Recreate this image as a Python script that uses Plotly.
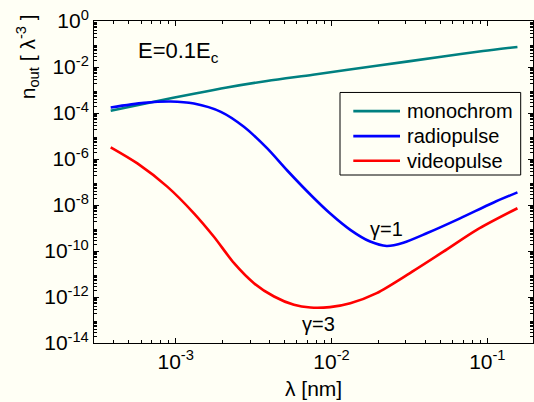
import plotly.graph_objects as go

# ---- data ----
lam_mono = [3.83e-4, 7.26e-4, 1.31e-3, 2.13e-3, 3.85e-3, 7.60e-3, 1.95e-2, 5.20e-2, 9.38e-2, 0.156]
n_mono = [1.24e-4, 3.11e-4, 6.92e-4, 1.29e-3, 2.47e-3, 4.62e-3, 1.13e-2, 2.85e-2, 4.94e-2, 7.45e-2]

lam_radio = [3.83e-4, 6.26e-4, 9.29e-4, 1.31e-3, 1.95e-3, 2.74e-3, 3.87e-3, 5.20e-3, 7.50e-3,
             9.77e-3, 1.32e-2, 1.77e-2, 2.26e-2, 2.89e-2, 4.08e-2, 6.68e-2, 0.109, 0.156]
n_radio = [1.74e-4, 2.75e-4, 3.16e-4, 2.57e-4, 1.12e-4, 2.51e-5, 2.88e-6, 3.16e-7, 2.40e-8,
           4.37e-9, 8.32e-10, 2.57e-10, 1.66e-10, 2.29e-10, 5.89e-10, 2.63e-9, 1.26e-8, 3.55e-8]

lam_video = [3.83e-4, 5.68e-4, 8.83e-4, 1.31e-3, 1.76e-3, 2.37e-3, 3.18e-3, 4.28e-3, 5.74e-3,
             7.33e-3, 9.77e-3, 1.32e-2, 1.95e-2, 3.19e-2, 5.22e-2, 8.55e-2, 0.156]
n_video = [3.24e-6, 6.46e-7, 6.31e-8, 4.37e-9, 4.17e-10, 2.95e-11, 3.98e-12, 1.05e-12, 4.57e-13,
           3.47e-13, 3.63e-13, 5.37e-13, 1.48e-12, 1.10e-11, 9.33e-11, 8.32e-10, 7.24e-9]

series_names = ["monochrom", "radiopulse", "videopulse"]
series_colors = ["#008080", "#0000ff", "#ff0000"]

x_tickvals = [1e-3, 1e-2, 1e-1]
x_ticktext = ["10<sup>-3</sup>", "10<sup>-2</sup>", "10<sup>-1</sup>"]
y_tickvals = [1e0, 1e-2, 1e-4, 1e-6, 1e-8, 1e-10, 1e-12, 1e-14]
y_ticktext = ["10<sup>0</sup>", "10<sup>-2</sup>", "10<sup>-4</sup>", "10<sup>-6</sup>",
              "10<sup>-8</sup>", "10<sup>-10</sup>", "10<sup>-12</sup>", "10<sup>-14</sup>"]
y_odd_decades = [1e-1, 1e-3, 1e-5, 1e-7, 1e-9, 1e-11, 1e-13]

# minor tick positions (2..9 in each decade)
x_minor = [m * 10.0 ** e for e in range(-4, 0) for m in range(2, 10)]
y_minor = [m * 10.0 ** e for e in range(-14, 0) for m in range(2, 10)]

BG = "#fffff5"
FONT = "Liberation Sans, Arial, sans-serif"

# plot area in pixels (for placing decorations in paper coords)
PL, PR, PT, PB = 94.0, 533.0, 20.7, 343.3
def px(x):
    return (x - PL) / (PR - PL)
def py(y):
    return (PB - y) / (PB - PT)

fig = go.Figure()
for lam, n, name, col in zip([lam_mono, lam_radio, lam_video], [n_mono, n_radio, n_video],
                             series_names, series_colors):
    fig.add_trace(go.Scatter(x=lam, y=n, mode="lines", name=name, showlegend=False,
                             line=dict(color=col, width=2.6, shape="spline", smoothing=0.8)))

def axis_common(minor_vals):
    return dict(type="log", showline=True, linecolor="black", linewidth=1, mirror="allticks",
                ticks="inside", ticklen=5, tickcolor="black", tickwidth=1,
                showgrid=False, zeroline=False, automargin=False,
                tickfont=dict(family=FONT, size=21, color="black"),
                minor=dict(ticks="inside", ticklen=3, tickcolor="black", tickwidth=1,
                           tickmode="array", tickvals=minor_vals, showgrid=False))

fig.update_xaxes(range=[-3.524, -0.707], tickmode="array", tickvals=x_tickvals, ticktext=x_ticktext,
                 **axis_common(x_minor))
fig.update_yaxes(range=[-14, 0], tickmode="array", tickvals=y_tickvals, ticktext=y_ticktext,
                 **axis_common(y_minor))
# unlabeled long ticks at the odd decades
fig.update_layout(yaxis2=dict(type="log", overlaying="y", side="left", range=[-14, 0],
                              tickmode="array", tickvals=y_odd_decades, showticklabels=False,
                              ticks="inside", ticklen=5, tickcolor="black", tickwidth=1,
                              mirror="allticks", showline=False, showgrid=False, zeroline=False,
                              automargin=False))

# legend box drawn by hand (MATLAB-style sample lines)
fig.add_shape(type="rect", xref="paper", yref="paper", x0=px(340), x1=px(520.7), y0=py(175), y1=py(92.3),
              line=dict(color="black", width=1), fillcolor=BG, layer="above")
for i, (name, col) in enumerate(zip(series_names, series_colors)):
    yy = [111, 136, 160.7][i]
    fig.add_shape(type="line", xref="paper", yref="paper", x0=px(353.3), x1=px(400), y0=py(yy), y1=py(yy),
                  line=dict(color=col, width=2.6), layer="above")
    fig.add_annotation(xref="paper", yref="paper", x=px(405), y=py(yy), xanchor="left", yanchor="middle",
                       showarrow=False, text=name, font=dict(family=FONT, size=20, color="black"))

fig.add_annotation(xref="paper", yref="paper", x=px(136), y=py(52),
                   xanchor="left", yanchor="middle", showarrow=False,
                   text="E=0.1E<sub>c</sub>", font=dict(family=FONT, size=22, color="black"))
fig.add_annotation(xref="paper", yref="paper", x=px(386), y=py(229),
                   xanchor="center", yanchor="middle", showarrow=False,
                   text="γ=1", font=dict(family=FONT, size=20, color="black"))
fig.add_annotation(xref="paper", yref="paper", x=px(318), y=py(324),
                   xanchor="center", yanchor="middle", showarrow=False,
                   text="γ=3", font=dict(family=FONT, size=20, color="black"))
fig.add_annotation(xref="paper", yref="paper", x=0.5, y=py(389),
                   xanchor="center", yanchor="middle", showarrow=False,
                   text="λ [nm]", font=dict(family=FONT, size=21, color="black"))
fig.add_annotation(xref="paper", yref="paper", x=px(27), y=py(57),
                   xanchor="center", yanchor="middle", showarrow=False, textangle=-90,
                   text="n<sub>out</sub> [ λ<sup>-3</sup> ]", font=dict(family=FONT, size=21, color="black"))

fig.update_layout(
    width=534, height=402,
    margin=dict(l=94, r=1, t=21, b=59, autoexpand=False),
    paper_bgcolor=BG, plot_bgcolor=BG,
    showlegend=False,
)

fig.write_html("out.html", config={"displayModeBar": False},
               post_script="document.body.style.margin='0';document.body.style.padding='0';"
                           "document.body.style.overflow='hidden';"
                           "document.body.style.background='" + BG + "';")
